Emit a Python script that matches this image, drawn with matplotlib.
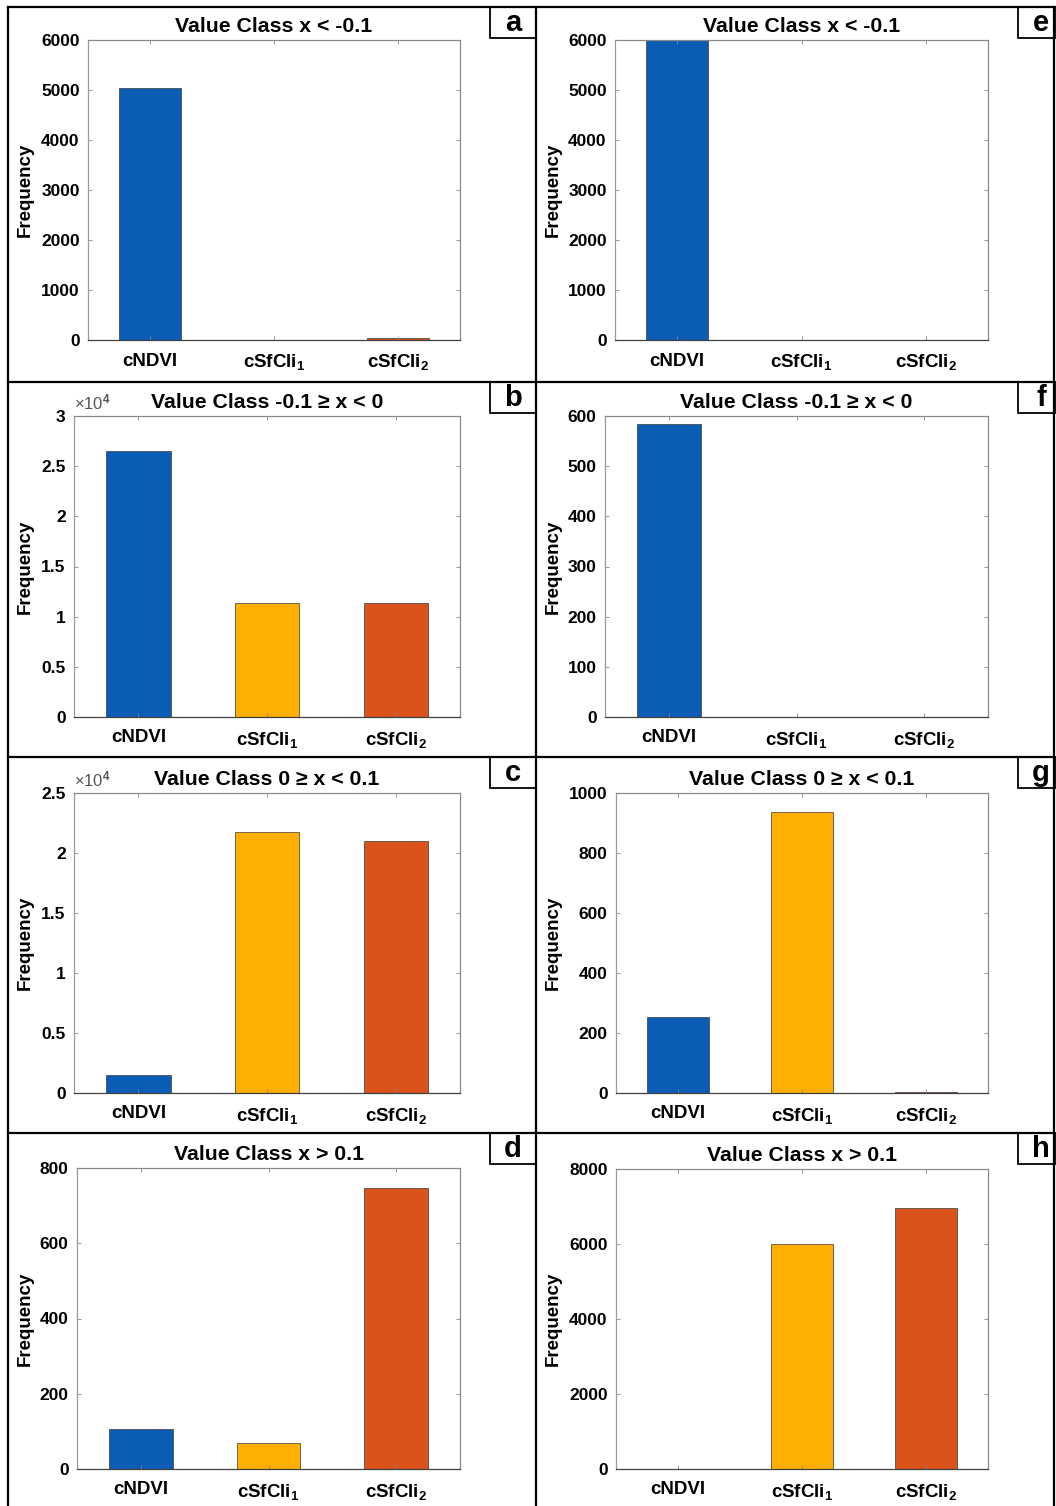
import matplotlib
matplotlib.use('Agg')
import matplotlib.pyplot as plt
from matplotlib.patches import Rectangle
from matplotlib.lines import Line2D
from matplotlib.transforms import blended_transform_factory
from matplotlib.ticker import FuncFormatter

plt.rcParams['font.family'] = ['Liberation Sans', 'DejaVu Sans']
plt.rcParams['font.weight'] = 'bold'
plt.rcParams['mathtext.fontset'] = 'custom'
plt.rcParams['mathtext.rm'] = 'Liberation Sans:bold'
plt.rcParams['mathtext.bf'] = 'Liberation Sans:bold'
plt.rcParams['mathtext.it'] = 'Liberation Sans:bold'

W, H = 1056, 1506

# data
indices = ['cNDVI', 'cSfCli$_\\mathbf{1}$', 'cSfCli$_\\mathbf{2}$']
bar_colors = ['#0a5cb5', '#fdb001', '#d9531a']

class_titles = ['Value Class x < -0.1', 'Value Class -0.1 \u2265 x < 0',
                'Value Class 0 \u2265 x < 0.1', 'Value Class x > 0.1']

freq_a = [5040, 10, 40]
freq_b = [26500, 11350, 11400]
freq_c = [1500, 21750, 21000]
freq_d = [106, 69, 747]
freq_e = [6900, 0, 0]
freq_f = [584, 0, 0]
freq_g = [253, 937, 3]
freq_h = [0, 6000, 6960]

yticks_a = [0, 1000, 2000, 3000, 4000, 5000, 6000]
yticks_b = [0, 5000, 10000, 15000, 20000, 25000, 30000]
yticks_c = [0, 5000, 10000, 15000, 20000, 25000]
yticks_d = [0, 200, 400, 600, 800]
yticks_e = [0, 1000, 2000, 3000, 4000, 5000, 6000]
yticks_f = [0, 100, 200, 300, 400, 500, 600]
yticks_g = [0, 200, 400, 600, 800, 1000]
yticks_h = [0, 2000, 4000, 6000, 8000]

# panel: letter, values, ticks, title, scaled x1e4, axes box in px (left, top, right, bottom)
panels = [
    ('a', freq_a, yticks_a, class_titles[0], False, (88, 40, 460, 340)),
    ('b', freq_b, yticks_b, class_titles[1], True, (74, 416, 460, 717)),
    ('c', freq_c, yticks_c, class_titles[2], True, (74, 793, 460, 1093)),
    ('d', freq_d, yticks_d, class_titles[3], False, (77, 1168, 460, 1469)),
    ('e', freq_e, yticks_e, class_titles[0], False, (615, 40, 988, 340)),
    ('f', freq_f, yticks_f, class_titles[1], False, (605, 416, 988, 717)),
    ('g', freq_g, yticks_g, class_titles[2], False, (616, 793, 988, 1093)),
    ('h', freq_h, yticks_h, class_titles[3], False, (616, 1169, 988, 1469)),
]

row_tops = [7, 382, 757, 1133]

fig = plt.figure(figsize=(W / 100, H / 100), dpi=100)
fig.patch.set_facecolor('white')

for i, (letter, vals, yt, title, sci, box) in enumerate(panels):
    l, t, r, b = box
    ax = fig.add_axes([l / W, 1 - b / H, (r - l) / W, (b - t) / H])
    ax.bar([1, 2, 3], vals, width=0.5, color=bar_colors,
           edgecolor='#3a3a3a', linewidth=0.5)
    ax.set_xlim(0.5, 3.5)
    ax.set_ylim(yt[0], yt[-1])
    ax.set_xticks([1, 2, 3])
    ax.set_xticklabels(indices, fontsize=13.5, fontweight='bold')
    ax.set_yticks(yt)
    if sci:
        ax.yaxis.set_major_formatter(FuncFormatter(lambda v, p: '%g' % (v / 1e4)))
        ax.text(0.0, 1.012, '\u00d710$^{\\mathrm{4}}$', transform=ax.transAxes,
                ha='left', va='bottom', fontsize=12, color='#555555',
                fontweight='normal')
    for lab in ax.get_yticklabels():
        lab.set_fontsize(12.5)
        lab.set_fontweight('bold')
    ax.tick_params(axis='y', direction='in', length=3, width=0.6, pad=6,
                   color='#888888', right=True)
    ax.tick_params(axis='x', direction='in', length=3, width=0.6, pad=9,
                   color='#888888', top=True)
    ax.spines['bottom'].set_color('#404040')
    ax.spines['left'].set_color('#9a9a9a')
    ax.spines['top'].set_color('#8a8a8a')
    ax.spines['right'].set_color('#8a8a8a')
    for s in ax.spines.values():
        s.set_linewidth(0.9)
    ax.set_title(title, fontsize=15.3, fontweight='bold', pad=6)
    ax.set_ylabel('Frequency', fontsize=13.5, fontweight='bold')
    lab_x = 34 if i < 4 else 562
    ax.yaxis.set_label_coords(lab_x / W, 0.5,
                              transform=blended_transform_factory(fig.transFigure, ax.transAxes))

    # letter box
    bx0 = 490 if i < 4 else 1018
    bx1 = 536 if i < 4 else 1056
    by0 = row_tops[i % 4]
    by1 = by0 + 31
    fig.add_artist(Rectangle((bx0 / W, 1 - by1 / H), (bx1 - bx0) / W, (by1 - by0) / H,
                             transform=fig.transFigure, facecolor='white',
                             edgecolor='black', linewidth=1.3))
    fig.text((bx0 + 23) / W, 1 - (by0 + 16) / H, letter, fontsize=21,
             fontweight='bold', ha='center', va='center')

# panel frame lines
for x in [8, 536, 1054]:
    fig.add_artist(Line2D([x / W, x / W], [0, 1 - 7 / H], transform=fig.transFigure,
                          color='black', linewidth=1.6))
for y in row_tops:
    fig.add_artist(Line2D([8 / W, 1054 / W], [1 - y / H, 1 - y / H], transform=fig.transFigure,
                          color='black', linewidth=1.6))

fig.savefig('out.png', dpi=100, facecolor='white')
